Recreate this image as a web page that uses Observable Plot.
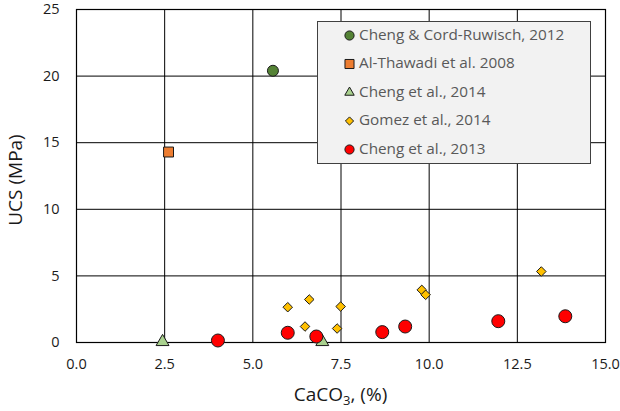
<!DOCTYPE html>
<html><head><meta charset="utf-8">
<script src="https://cdn.jsdelivr.net/npm/d3@7"></script>
<script src="https://cdn.jsdelivr.net/npm/@observablehq/plot@0.6"></script>
<style>body{margin:0;background:#fff;} svg{display:block;}</style>
</head><body><div id="chart"></div>
<script>
const seriesNames = ["Cheng & Cord-Ruwisch, 2012","Al-Thawadi et al. 2008","Cheng et al., 2014","Gomez et al., 2014","Cheng et al., 2013"];
const chengCord = [{x:5.57,y:20.4}];
const alThawadi = [{x:2.61,y:14.3}];
const cheng2014 = [{x:2.44,y:0.05},{x:6.97,y:0.05}];
const gomez2014 = [{x:5.99,y:2.65},{x:6.6,y:3.23},{x:6.48,y:1.2},{x:7.49,y:2.7},{x:7.39,y:1.05},{x:9.79,y:3.95},{x:9.9,y:3.58},{x:13.18,y:5.33}];
const cheng2013 = [{x:4.01,y:0.15},{x:5.99,y:0.73},{x:6.8,y:0.45},{x:8.67,y:0.78},{x:9.32,y:1.2},{x:11.96,y:1.6},{x:13.86,y:1.97}];
const xTicks = [0,2.5,5,7.5,10,12.5,15];
const yTicks = [0,5,10,15,20,25];

const styles = [
  {symbol:"circle", fill:"#548235", r:5.5, lr:4.6},
  {symbol:"square", fill:"#ed7d31", r:5.6, lr:5.1},
  {symbol:"triangle", fill:"#a9d18e", r:4.8, lr:3.5},
  {symbol:"diamond2", fill:"#ffc000", r:4.3, lr:3.7},
  {symbol:"circle", fill:"#ff0000", r:6.5, lr:4.6}
];
const datasets = [chengCord, alThawadi, cheng2014, gomez2014, cheng2013];
const font = "'Open Sans', sans-serif";

const plot = Plot.plot({
  width: 620, height: 411,
  marginLeft: 76, marginRight: 15, marginTop: 9, marginBottom: 69,
  style: {fontFamily: font, background: "#fff"},
  x: {domain: [0, 15]},
  y: {domain: [0, 25]},
  marks: [
    Plot.gridX(xTicks, {stroke: "#000", strokeOpacity: 1, strokeWidth: 1}),
    Plot.gridY(yTicks, {stroke: "#000", strokeOpacity: 1, strokeWidth: 1}),
    Plot.frame({stroke: "#000", strokeWidth: 1.2}),
    Plot.axisX({ticks: xTicks, tickFormat: d3.format(".1f"), tickSize: 0, tickPadding: 16, fontSize: 14.5, fill: "#1a1a1a", label: null}),
    Plot.axisY({ticks: yTicks, tickSize: 0, tickPadding: 17, fontSize: 14.5, fill: "#1a1a1a", label: null}),
    ...datasets.map((d, i) => Plot.dot(d, {x: "x", y: "y", symbol: styles[i].symbol, r: styles[i].r, fill: styles[i].fill, stroke: "#1a1a1a", strokeWidth: 1}))
  ]
});
document.getElementById("chart").appendChild(plot);

const svg = d3.select(plot);
// axis titles
svg.append("text").attr("transform", "translate(17,180) rotate(-90)")
  .attr("text-anchor", "middle").attr("dominant-baseline", "middle")
  .style("font-family", font).style("font-size", "19px").attr("fill", "#1a1a1a").text("UCS (MPa)");
const xl = svg.append("text").attr("x", 340.5).attr("y", 401).attr("text-anchor", "middle")
  .style("font-family", font).style("font-size", "19px").attr("fill", "#1a1a1a");
xl.append("tspan").text("CaCO");
xl.append("tspan").attr("dy", 4).style("font-size", "13px").text("3");
xl.append("tspan").attr("dy", -4).text(", (%)");

// legend
const lg = svg.append("g").attr("text-anchor", "start");
lg.append("rect").attr("x", 317.5).attr("y", 21.5).attr("width", 273).attr("height", 142)
  .attr("fill", "#f2f2f2").attr("stroke", "#404040").attr("stroke-width", 1);
const symMap = {circle: d3.symbolCircle, square: d3.symbolSquare, triangle: d3.symbolTriangle, diamond2: d3.symbolDiamond2};
seriesNames.forEach((name, i) => {
  const cy = 35.5 + i * 28.5;
  lg.append("path").attr("transform", `translate(349.5,${cy})`)
    .attr("d", d3.symbol(symMap[styles[i].symbol], Math.PI * styles[i].lr * styles[i].lr)())
    .attr("fill", styles[i].fill).attr("stroke", "#1a1a1a").attr("stroke-width", 1);
  lg.append("text").attr("x", 359).attr("y", cy).attr("dominant-baseline", "middle").attr("text-anchor", "start")
    .style("font-family", font).style("font-size", "15.3px").attr("fill", "#595959").text(name);
});
</script></body></html>
